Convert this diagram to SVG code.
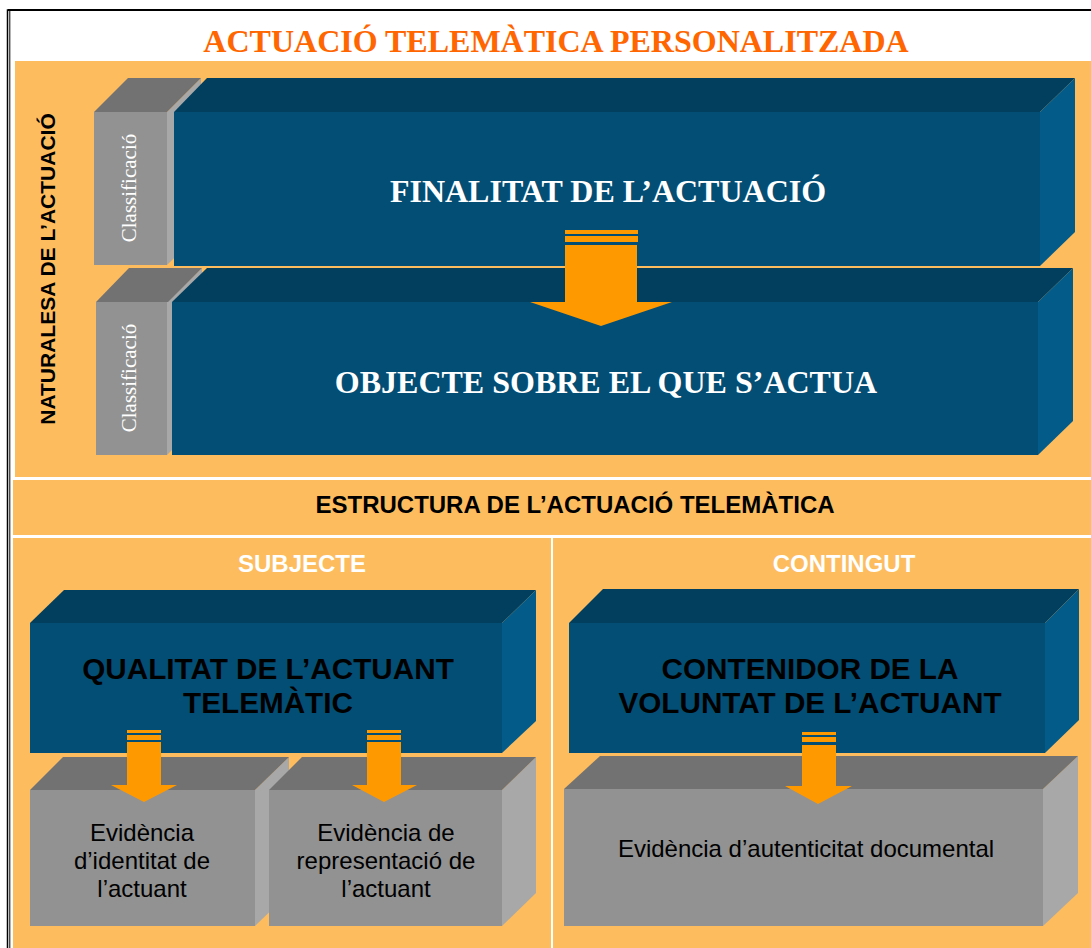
<svg xmlns="http://www.w3.org/2000/svg" width="1091" height="948" viewBox="0 0 1091 948">
<style>
.bg{fill:#FDBC5E}
.bf{fill:#034E75}
.bt{fill:#023E5D}
.bs{fill:#025B89}
.gf{fill:#929292}
.gt{fill:#727272}
.gs{fill:#A8A8A8}
.arr{fill:#FF9900}
.ser{font-family:"Liberation Serif","Times New Roman",serif}
.sans{font-family:"Liberation Sans",Arial,sans-serif}
.big{font-size:32px;font-weight:bold;fill:#fff;text-anchor:middle}
.cls{font-size:21px;fill:#fff;text-anchor:middle}
.hd{font-size:24px;font-weight:bold;text-anchor:middle}
.bl{font-size:29.7px;font-weight:bold;fill:#000;text-anchor:middle}
.ev{font-size:24px;fill:#000;text-anchor:middle}
</style>
<rect x="0" y="0" width="1091" height="948" fill="#fff"/>
<g id="panels">
<rect class="bg" x="15" y="61" width="1076" height="416"/>
<rect class="bg" x="13" y="480" width="1078" height="55"/>
<rect class="bg" x="13" y="538" width="538" height="410"/>
<rect class="bg" x="553" y="538" width="538" height="410"/>
</g>
<path d="M7.5,948 V10 H1091" fill="none" stroke="#000" stroke-width="1.5"/>
<path d="M9.8,948 V11" fill="none" stroke="#000" stroke-width="1"/>
<path d="M8,10 H1091" fill="none" stroke="#000" stroke-width="2"/>
<text class="ser" x="556" y="52" font-size="32" font-weight="bold" fill="#FF6600" text-anchor="middle">ACTUACIÓ TELEMÀTICA PERSONALITZADA</text>
<text class="sans" transform="translate(55,269) rotate(-90)" font-size="21" font-weight="bold" fill="#000" text-anchor="middle">NATURALESA DE L’ACTUACIÓ</text>
<text class="sans hd" x="575" y="513" fill="#000">ESTRUCTURA DE L’ACTUACIÓ TELEMÀTICA</text>
<text class="sans hd" x="302" y="572" fill="#fff">SUBJECTE</text>
<text class="sans hd" x="844" y="572" fill="#fff">CONTINGUT</text>

<g id="classificacio1">
<polygon class="gs" points="167,112 201,78 201,232 167,265"/>
<polygon class="gt" points="94,112 128,78 201,78 167,112"/>
<rect class="gf" x="94" y="112" width="73" height="153"/>
<text class="ser cls" transform="translate(136,188) rotate(-90)">Classificació</text>
</g>
<g id="finalitat">
<polygon class="bt" points="174,112 207,78 1075,78 1040,112"/>
<polygon class="bs" points="1040,112 1075,78 1075,232 1040,266"/>
<rect class="bf" x="174" y="112" width="866" height="154"/>
<text class="ser big" x="608" y="202">FINALITAT DE L’ACTUACIÓ</text>
</g>
<g id="classificacio2">
<polygon class="gs" points="167,302 202,268 202,420 167,455"/>
<polygon class="gt" points="96,302 129,268 202,268 168,302"/>
<rect class="gf" x="96" y="302" width="71" height="153"/>
<text class="ser cls" transform="translate(136,378) rotate(-90)">Classificació</text>
</g>
<g id="objecte">
<polygon class="bt" points="172,302 207,268 1073,268 1038,302"/>
<polygon class="bs" points="1038,302 1073,268 1073,421 1038,455"/>
<rect class="bf" x="172" y="302" width="866" height="153"/>
<text class="ser big" x="606" y="393">OBJECTE SOBRE EL QUE S’ACTUA</text>
</g>

<g id="qualitat">
<polygon class="bt" points="30,623 64,590 536,590 502,623"/>
<polygon class="bs" points="502,623 536,590 536,721 502,753"/>
<rect class="bf" x="30" y="623" width="472" height="130"/>
<text class="sans bl" x="268" y="679">QUALITAT DE L’ACTUANT</text>
<text class="sans bl" x="268" y="713">TELEMÀTIC</text>
</g>
<g id="evidencia-identitat">
<polygon class="gs" points="255,790 289,757 289,893 255,926"/>
<polygon class="gt" points="30,790 63,757 289,757 255,790"/>
<rect class="gf" x="30" y="790" width="225" height="136"/>
<text class="sans ev" x="142" y="841">Evidència</text>
<text class="sans ev" x="142" y="869">d’identitat de</text>
<text class="sans ev" x="142" y="897">l’actuant</text>
</g>
<g id="evidencia-representacio">
<polygon class="gs" points="502,790 536,757 536,893 502,926"/>
<polygon class="gt" points="269,790 302,757 536,757 502,790"/>
<rect class="gf" x="269" y="790" width="233" height="136"/>
<text class="sans ev" x="386" y="841">Evidència de</text>
<text class="sans ev" x="386" y="869">representació de</text>
<text class="sans ev" x="386" y="897">l’actuant</text>
</g>
<g id="contenidor">
<polygon class="bt" points="569,623 603,589 1079,589 1045,623"/>
<polygon class="bs" points="1045,623 1079,589 1079,720 1045,753"/>
<rect class="bf" x="569" y="623" width="476" height="130"/>
<text class="sans bl" x="810" y="679">CONTENIDOR DE LA</text>
<text class="sans bl" x="810" y="713">VOLUNTAT DE L’ACTUANT</text>
</g>
<g id="evidencia-autenticitat">
<polygon class="gs" points="1043,789 1078,756 1078,893 1043,926"/>
<polygon class="gt" points="564,789 600,756 1078,756 1043,789"/>
<rect class="gf" x="564" y="789" width="479" height="137"/>
<text class="sans ev" x="806" y="857">Evidència d’autenticitat documental</text>
</g>

<g id="connectors">
<g class="arr">
<rect x="565" y="230" width="73" height="4"/>
<rect x="565" y="236" width="73" height="6"/>
<polygon points="565,245 637,245 637,302 672,302 601,326 530,302 565,302"/>
</g>
<g class="arr">
<rect x="127" y="730" width="34" height="3"/>
<rect x="127" y="735" width="34" height="5"/>
<polygon points="127,742 161,742 161,785 177,785 144,802 111,785 127,785"/>
</g>
<g class="arr">
<rect x="367" y="730" width="34" height="3"/>
<rect x="367" y="735" width="34" height="5"/>
<polygon points="367,742 401,742 401,785 417,785 384,802 352,785 367,785"/>
</g>
<g class="arr">
<rect x="802" y="732" width="34" height="3"/>
<rect x="802" y="737" width="34" height="5"/>
<polygon points="802,745 836,745 836,786 852,786 818,804 785,786 802,786"/>
</g>
</g>
</svg>
